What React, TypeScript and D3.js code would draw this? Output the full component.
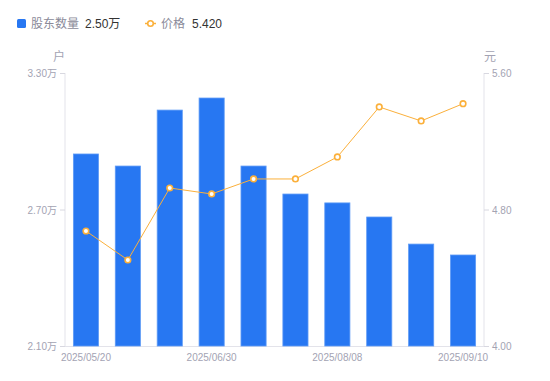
import React from "react";
import * as d3 from "d3";

const dates = ["2025/05/20","2025/05/30","2025/06/20","2025/06/30","2025/07/10","2025/07/31","2025/08/08","2025/08/20","2025/08/29","2025/09/10"];
const holders = [2.944, 2.891, 3.137, 3.190, 2.891, 2.768, 2.729, 2.667, 2.548, 2.500];
const prices = [4.674, 4.504, 4.926, 4.891, 4.979, 4.979, 5.108, 5.401, 5.319, 5.420];
const leftTicks = [2.10, 2.70, 3.30];
const rightTicks = [4.00, 4.80, 5.60];
const shownDates = ["2025/05/20","2025/06/30","2025/08/08","2025/09/10"];

const W = 550, H = 381;
const L = 65, R = 484, T = 73, B = 346;
const BLUE = "#2777f2";
const ORANGE = "#fbb03b";
const GREY = "#a3a3b3";
const FONT = "'Liberation Sans', 'Noto Sans CJK SC', sans-serif";

export default function App() {
  const x = d3.scaleBand<string>().domain(dates).range([L, R]).paddingInner(0.4).paddingOuter(0.2);
  const yL = d3.scaleLinear().domain([2.1, 3.3]).range([B, T]);
  const yR = d3.scaleLinear().domain([4.0, 5.6]).range([B, T]);
  const cx = (d: string) => (x(d) as number) + x.bandwidth() / 2;
  const line = d3.line<number>().x((_, i) => cx(dates[i])).y((v) => yR(v));

  return (
    <svg width={W} height={H} style={{ position: "absolute", left: 0, top: 0, fontFamily: FONT }}>
      <rect width={W} height={H} fill="#fff" />
      {/* legend */}
      <rect x={17} y={19} width={9} height={9} rx={1.5} fill={BLUE} />
      <text x={31} y={28} fontSize={12} fill="#8a8a99">股东数量</text>
      <text x={85} y={28} fontSize={12} fill="#333">2.50万</text>
      <line x1={145} x2={156} y1={23.5} y2={23.5} stroke={ORANGE} strokeWidth={1.5} />
      <circle cx={150.5} cy={23.5} r={2.8} fill="#fff" stroke={ORANGE} strokeWidth={1.6} />
      <text x={161} y={28} fontSize={12} fill="#8a8a99">价格</text>
      <text x={192} y={28} fontSize={12} fill="#333">5.420</text>

      {/* units */}
      <text x={59} y={61} fontSize={12} fill={GREY} textAnchor="middle">户</text>
      <text x={490} y={61} fontSize={12} fill={GREY} textAnchor="middle">元</text>

      {/* axes */}
      <line x1={L} x2={L} y1={T} y2={B} stroke="#e3e3ea" />
      <line x1={R} x2={R} y1={T} y2={B} stroke="#e3e3ea" />
      <line x1={L} x2={R} y1={B + 0.5} y2={B + 0.5} stroke="#e3e3ea" />
      {leftTicks.map((t) => (
        <g key={"l" + t}>
          <line x1={L - 5} x2={L} y1={yL(t) + 0.5} y2={yL(t) + 0.5} stroke="#d8d8e0" />
          <text x={L - 8} y={yL(t) + 4} fontSize={10} fill={GREY} textAnchor="end">{t.toFixed(2)}万</text>
        </g>
      ))}
      {rightTicks.map((t) => (
        <g key={"r" + t}>
          <line x1={R} x2={R + 5} y1={yR(t) + 0.5} y2={yR(t) + 0.5} stroke="#d8d8e0" />
          <text x={R + 8} y={yR(t) + 4} fontSize={10} fill={GREY} textAnchor="start">{t.toFixed(2)}</text>
        </g>
      ))}
      {shownDates.map((d) => (
        <text key={d} x={cx(d)} y={361} fontSize={10} fill={GREY} textAnchor="middle">{d}</text>
      ))}

      {/* bars */}
      {holders.map((v, i) => (
        <rect key={i} x={x(dates[i])} y={yL(v)} width={x.bandwidth()} height={B - yL(v)} fill={BLUE} stroke="#5f9bf6" strokeWidth={0.8} />
      ))}

      {/* line */}
      <path d={line(prices) || ""} fill="none" stroke={ORANGE} strokeWidth={1} />
      {prices.map((v, i) => (
        <circle key={i} cx={cx(dates[i])} cy={yR(v)} r={2.8} fill="#fff" stroke={ORANGE} strokeWidth={1.6} />
      ))}
    </svg>
  );
}
